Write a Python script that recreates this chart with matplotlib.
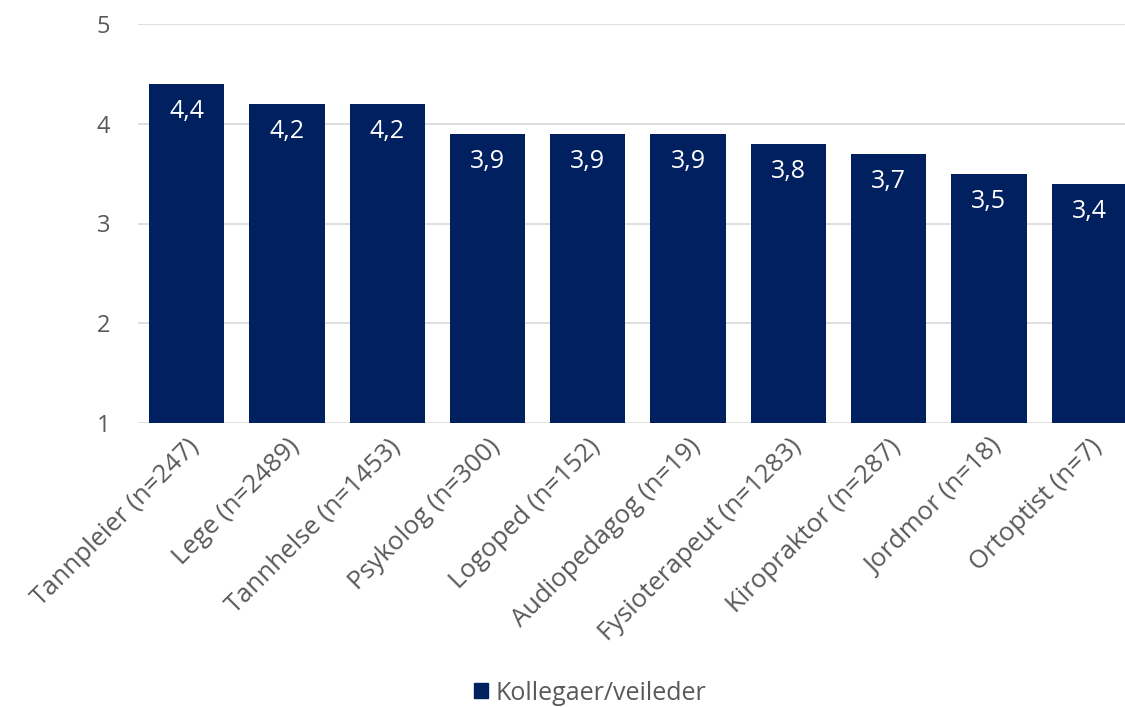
import matplotlib
matplotlib.use("Agg")
import matplotlib.pyplot as plt
from matplotlib.patches import Patch

plt.rcParams['font.family'] = ['Open Sans', 'DejaVu Sans']

categories = ["Tannpleier (n=247)", "Lege (n=2489)", "Tannhelse (n=1453)",
              "Psykolog (n=300)", "Logoped (n=152)", "Audiopedagog (n=19)",
              "Fysioterapeut (n=1283)", "Kiropraktor (n=287)", "Jordmor (n=18)",
              "Ortoptist (n=7)"]
values = [4.4, 4.2, 4.2, 3.9, 3.9, 3.9, 3.8, 3.7, 3.5, 3.4]
series_name = "Kollegaer/veileder"

bar_color = "#002060"
text_color = "#595959"

fig = plt.figure(figsize=(11.25, 7.07), dpi=100)
ax = fig.add_axes([138 / 1125, 1 - 423 / 707, 987 / 1125, 399 / 707])

x = list(range(len(categories)))
ax.bar(x, [v - 1 for v in values], bottom=1, width=0.75, color=bar_color, zorder=3)

# value labels sit just inside the top of each bar
for xi, v in zip(x, values):
    ax.text(xi, v - 0.28, f"{v:.1f}".replace(".", ","), ha="center", va="center",
            color="white", fontsize=18, zorder=4)

ax.set_xlim(-0.485, 9.357)
ax.set_ylim(1, 5)
ax.set_yticks([1, 2, 3, 4, 5])
ax.yaxis.grid(True, color="#d9d9d9", linewidth=1.2, zorder=0)
ax.tick_params(axis="y", length=0, pad=20, labelsize=17, labelcolor=text_color)
ax.tick_params(axis="x", length=0, pad=8, labelsize=18.5, labelcolor=text_color)
ax.set_xticks(x)
ax.set_xticklabels(categories, rotation=45, ha="right", rotation_mode="anchor")
for s in ax.spines.values():
    s.set_visible(False)

fig.legend(handles=[Patch(color=bar_color, label=series_name)],
           loc="center", bbox_to_anchor=(590 / 1125, 1 - 693 / 707), frameon=False,
           fontsize=18, labelcolor=text_color, handlelength=0.55, handleheight=0.55,
           handletextpad=0.3)

fig.savefig("out.png", dpi=100)
